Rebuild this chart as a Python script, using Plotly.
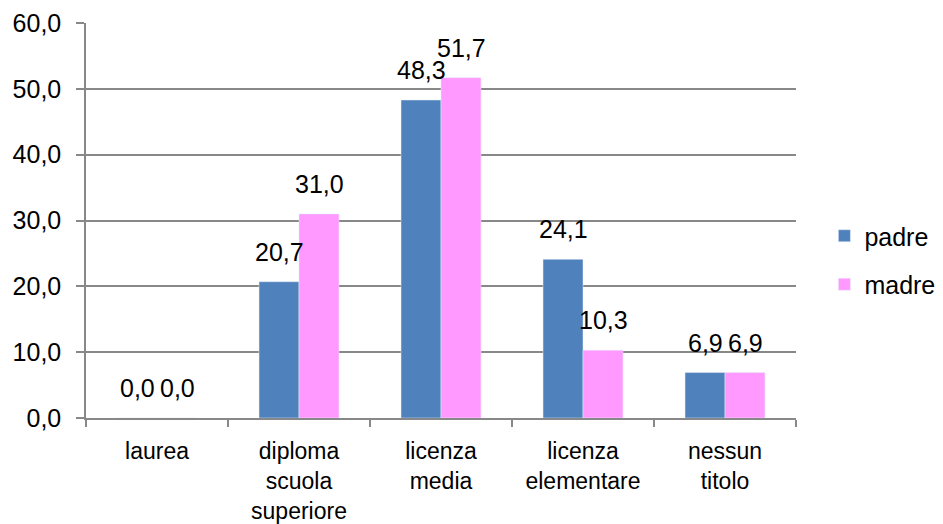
import plotly.graph_objects as go

categories = ["laurea", "diploma<br>scuola<br>superiore", "licenza<br>media",
              "licenza<br>elementare", "nessun<br>titolo"]
padre = [0.0, 20.7, 48.3, 24.1, 6.9]
madre = [0.0, 31.0, 51.7, 10.3, 6.9]
y_ticks = [0, 10, 20, 30, 40, 50, 60]

FONT = "Liberation Sans, Arial, sans-serif"
FS = 25

def fmt(v):
    return f"{v:.1f}".replace(".", ",")

fig = go.Figure()
fig.add_trace(go.Bar(name="padre", x=categories, y=padre,
                     marker_color="#4F81BD", legendgroup="a"))
fig.add_trace(go.Bar(name="madre", x=categories, y=madre,
                     marker_color="#FF99FF", legendgroup="b"))

# data labels (Excel-style offset above bars)
for vals, dx in ((padre, -20), (madre, 20)):
    for c, v in zip(categories, vals):
        fig.add_annotation(x=c, y=v, text=fmt(v), showarrow=False,
                           xanchor="center", yanchor="bottom",
                           xshift=dx, yshift=14,
                           font=dict(size=FS, color="#000", family=FONT))

fig.update_layout(
    width=935, height=516,
    margin=dict(l=78, r=147, t=15, b=106, autoexpand=False),
    paper_bgcolor="white", plot_bgcolor="white",
    font=dict(family=FONT, size=FS, color="#000"),
    separators=",.",
    barmode="group", bargap=0.437, bargroupgap=0,
    showlegend=True,
    legend=dict(x=1.04, xanchor="left", y=0.40, yanchor="middle",
                font=dict(size=FS), tracegroupgap=13,
                itemwidth=30, bgcolor="rgba(0,0,0,0)"),
)
fig.update_xaxes(
    showline=True, linecolor="#888", linewidth=1.5,
    ticks="outside", tickson="boundaries", ticklen=7, tickcolor="#888",
    tickwidth=1.5, showgrid=False, tickfont=dict(size=23), automargin=False,
    ticklabelstandoff=12,
)
fig.update_yaxes(
    range=[0, 60], tickvals=y_ticks, tickformat=".1f",
    showline=True, linecolor="#888", linewidth=1.5,
    ticks="outside", ticklen=8, tickcolor="#888", tickwidth=1.5,
    showgrid=True, gridcolor="#888", gridwidth=1.5,
    zeroline=False, tickfont=dict(size=FS), ticklabelstandoff=10,
    automargin=False,
)

fig.write_html("out.html")
